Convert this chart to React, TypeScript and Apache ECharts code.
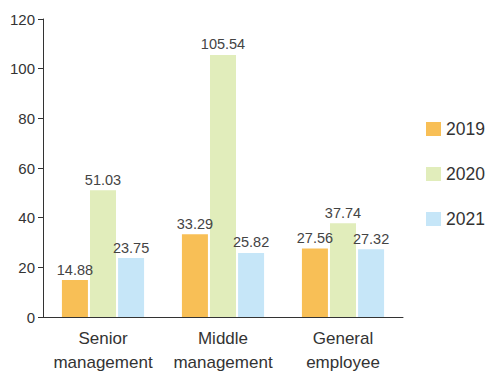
import React, { useEffect, useRef } from "react";
import * as echarts from "echarts";

const categories = ["Senior\nmanagement", "Middle\nmanagement", "General\nemployee"];
const years = ["2019", "2020", "2021"];
const values2019 = [14.88, 33.29, 27.56];
const values2020 = [51.03, 105.54, 37.74];
const values2021 = [23.75, 25.82, 27.32];
const colors = ["#F8BF56", "#E1EDBB", "#C6E6F8"];

export default function App() {
  const ref = useRef<HTMLDivElement>(null);
  useEffect(() => {
    const chart = echarts.init(ref.current!, null, { renderer: "svg" });
    const font = "Liberation Sans, Arial, sans-serif";
    const seriesData = [values2019, values2020, values2021];
    chart.setOption({
      animation: false,
      textStyle: { fontFamily: font },
      grid: { left: 43, right: 86, top: 19, bottom: 55, containLabel: false },
      legend: {
        orient: "vertical",
        left: 421,
        top: 115,
        itemWidth: 15,
        itemHeight: 14,
        itemGap: 27,
        icon: "rect",
        textStyle: { fontSize: 17.5, color: "#333", fontFamily: font },
        data: years,
      },
      xAxis: {
        type: "category",
        data: categories,
        axisLine: { lineStyle: { color: "#333", width: 1 } },
        axisTick: { show: false },
        axisLabel: {
          fontSize: 17,
          color: "#333",
          lineHeight: 24,
          margin: 9,
          interval: 0,
          fontFamily: font,
        },
      },
      yAxis: {
        type: "value",
        min: 0,
        max: 120,
        interval: 20,
        splitLine: { show: false },
        axisLine: { show: true, lineStyle: { color: "#333", width: 1 } },
        axisTick: { show: true, length: 5, lineStyle: { color: "#333" } },
        axisLabel: { fontSize: 15, color: "#333", margin: 8, fontFamily: font },
      },
      series: years.map((y, i) => ({
        name: y,
        type: "bar",
        data: seriesData[i],
        barWidth: 26,
        barGap: "8%",
        itemStyle: { color: colors[i] },
        label: {
          show: true,
          position: "top",
          distance: 3,
          fontSize: 14.5,
          color: "#444",
          fontFamily: font,
          formatter: (p: any) => p.value.toFixed(2),
        },
      })),
    });
    return () => chart.dispose();
  }, []);
  return <div ref={ref} style={{ width: 489, height: 374, position: "absolute", left: 0, top: 0 }} />;
}
